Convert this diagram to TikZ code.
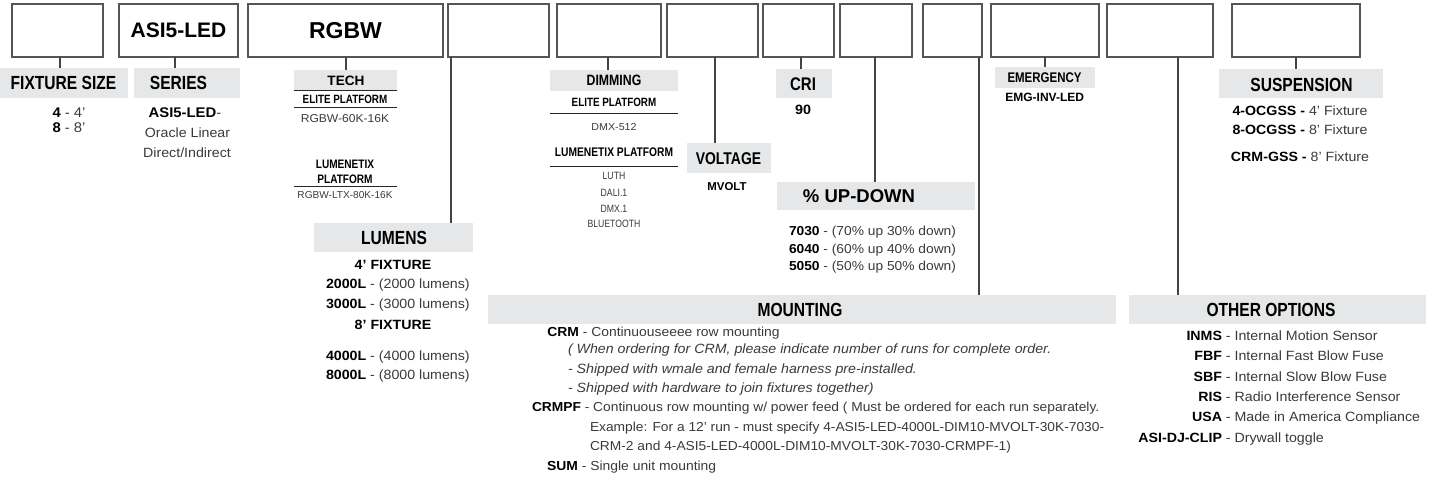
\documentclass[tikz,border=0pt]{standalone}
\usepackage{fontspec}
\setmainfont{Liberation Sans}
\newfontfamily\fc{Liberation Sans}[FakeStretch=0.82]
\newfontfamily\fn{Liberation Sans}[FakeStretch=1.0]
\newfontfamily\fw{Liberation Sans}[FakeStretch=1.06]
\newcommand\fsz[1]{\fontsize{#1}{#1}\selectfont}
\newcommand\bk[1]{{\bfseries\color{black}#1}}
\definecolor{gbg}{HTML}{E6E7E8}
\definecolor{boxc}{HTML}{555555}
\definecolor{stemc}{HTML}{444444}
\definecolor{txt}{HTML}{3A3A3A}
\begin{document}
\begin{tikzpicture}[x=1pt,y=-1pt,
  optbox/.style={draw=boxc,line width=1.2pt,inner sep=0,outer sep=0,minimum height=53,text=black,font=\fn\bfseries\fsz{21}},
  hd/.style={fill=gbg,inner sep=0,outer sep=0},
  hdtx/.style={inner sep=0,outer sep=0,anchor=center,text=black,font=\fc\bfseries\fsz{19}},
  stem/.style={draw=stemc,line width=1.2pt},
  sepline/.style={draw=black!85,line width=0.9pt},
  tx/.style={inner sep=0,outer sep=0,anchor=base,text=txt,font=\fw\fsz{13.4}},
  txw/.style={tx,anchor=base west},
  sbh/.style={tx,text=black,font=\fc\bfseries\fsz{12}},
]
\useasboundingbox (0,0) rectangle (1436,493);

% code boxes
\node[optbox,minimum width=91] (b1) at (57.5,30.5) {};
\node[optbox,minimum width=119] (b2) at (178.5,30.5) {ASI5-LED};
\node[optbox,minimum width=195,font=\fn\bfseries\fsz{23}] (b3) at (345.5,30.5) {RGBW};
\node[optbox,minimum width=101] (b4) at (498.5,30.5) {};
\node[optbox,minimum width=104] (b5) at (609,30.5) {};
\node[optbox,minimum width=91] (b6) at (712.5,30.5) {};
\node[optbox,minimum width=71] (b7) at (798.5,30.5) {};
\node[optbox,minimum width=72] (b8) at (876,30.5) {};
\node[optbox,minimum width=59] (b9) at (952.5,30.5) {};
\node[optbox,minimum width=108] (b10) at (1045,30.5) {};
\node[optbox,minimum width=106] (b11) at (1160,30.5) {};
\node[optbox,minimum width=128] (b12) at (1296,30.5) {};

% grey heading bars
\node[hd,minimum width=128,minimum height=30] (hFix) at (64,83) {};
\node[hd,minimum width=106,minimum height=30] (hSer) at (187,83) {};
\node[hd,minimum width=103,minimum height=20] (hTech) at (345.5,80) {};
\node[hd,minimum width=159,minimum height=29] (hLum) at (393.5,237.5) {};
\node[hd,minimum width=128,minimum height=21] (hDim) at (614,80.5) {};
\node[hd,minimum width=84,minimum height=30] (hVolt) at (729,158) {};
\node[hd,minimum width=56,minimum height=29] (hCri) at (804,83.5) {};
\node[hd,minimum width=198,minimum height=28] (hUp) at (876,196) {};
\node[hd,minimum width=628,minimum height=29] (hMount) at (802,309.5) {};
\node[hd,minimum width=100,minimum height=21] (hEmg) at (1045,77.5) {};
\node[hd,minimum width=297,minimum height=29] (hOther) at (1277.5,309.5) {};
\node[hd,minimum width=164,minimum height=29] (hSus) at (1301,83.5) {};

% heading texts
\node[hdtx] (tFix) at (63.5,83) {FIXTURE SIZE};
\node[hdtx] (tSer) at (178.5,83) {SERIES};
\node[hdtx,font=\fn\bfseries\fsz{13.6}] (tTech) at (346,80.5) {TECH};
\node[hdtx] (tLum) at (394,237.8) {LUMENS};
\node[hdtx,font=\fc\bfseries\fsz{15}] (tDim) at (614,80) {DIMMING};
\node[hdtx,font=\fc\bfseries\fsz{17}] (tVolt) at (728.5,158.3) {VOLTAGE};
\node[hdtx,font=\fc\bfseries\fsz{18.3}] (tCri) at (803,84.5) {CRI};
\node[hdtx,font=\fn\bfseries\fsz{18.5}] (tUp) at (859,196) {\% UP-DOWN};
\node[hdtx] (tMount) at (800,309.7) {MOUNTING};
\node[hdtx,font=\fc\bfseries\fsz{14}] (tEmg) at (1044.5,77.7) {EMERGENCY};
\node[hdtx] (tOther) at (1271,309.7) {OTHER OPTIONS};
\node[hdtx] (tSus) at (1301.5,84.5) {SUSPENSION};

% stems
\coordinate (x1) at (60,0);
\coordinate (x2) at (175,0);
\coordinate (x3) at (346,0);
\coordinate (x4) at (451,0);
\coordinate (x5) at (608,0);
\coordinate (x6) at (715,0);
\coordinate (x7) at (801,0);
\coordinate (x8) at (875,0);
\coordinate (x9) at (979,0);
\coordinate (x10) at (1045,0);
\coordinate (x11) at (1178,0);
\coordinate (x12) at (1296,0);
\draw[stem] (b1.south -| x1) -- (hFix.north -| x1);
\draw[stem] (b2.south -| x2) -- (hSer.north -| x2);
\draw[stem] (b3.south -| x3) -- (hTech.north -| x3);
\draw[stem] (b4.south -| x4) -- (hLum.north -| x4);
\draw[stem] (b5.south -| x5) -- (hDim.north -| x5);
\draw[stem] (b6.south -| x6) -- (hVolt.north -| x6);
\draw[stem] (b7.south -| x7) -- (hCri.north -| x7);
\draw[stem] (b8.south -| x8) -- (hUp.north -| x8);
\draw[stem] (b9.south -| x9) -- (hMount.north -| x9);
\draw[stem] (b10.south -| x10) -- (hEmg.north -| x10);
\draw[stem] (b11.south -| x11) -- (hOther.north -| x11);
\draw[stem] (b12.south -| x12) -- (hSus.north -| x12);

% fixture size
\node[tx,font=\fw\fsz{14}] (f4) at (69,117) {\bk{4} - 4’};
\node[tx,font=\fw\fsz{14}] (f8) at (69,132) {\bk{8} - 8’};

% series
\node[tx,font=\fw\fsz{14}] (s1) at (185,117) {\bk{ASI5-LED}-};
\node[tx] (s2) at (187.5,137) {Oracle Linear};
\node[tx] (s3) at (187,157) {Direct/Indirect};

% tech
\draw[sepline] (hTech.south west) -- (hTech.south east);
\node[sbh] (te1) at (345,103) {ELITE PLATFORM};
\coordinate (tl1) at (294,107.3);
\coordinate (tr1) at (397,107.3);
\draw[sepline] (tl1) -- (tr1);
\node[tx,font=\fw\fsz{11.4}] (te2) at (345,122.7) {RGBW-60K-16K};
\node[sbh,font=\fc\bfseries\fsz{12.3}] (te3) at (345,168) {LUMENETIX};
\node[sbh,font=\fc\bfseries\fsz{12.3}] (te4) at (345,183) {PLATFORM};
\coordinate (tl2) at (294,186);
\coordinate (tr2) at (397,186);
\draw[sepline] (tl2) -- (tr2);
\node[tx,font=\fn\fsz{10.1}] (te5) at (345,198) {RGBW-LTX-80K-16K};

% lumens
\node[tx,text=black,font=\fw\bfseries\fsz{13.4}] (l1) at (393,269) {4’ FIXTURE};
\node[txw] (l2) at (326,288) {\bk{2000L} - (2000 lumens)};
\node[txw] (l3) at (326,308) {\bk{3000L} - (3000 lumens)};
\node[tx,text=black,font=\fw\bfseries\fsz{13.4}] (l4) at (393,329) {8’ FIXTURE};
\node[txw] (l5) at (326,360) {\bk{4000L} - (4000 lumens)};
\node[txw] (l6) at (326,379) {\bk{8000L} - (8000 lumens)};

% dimming
\node[sbh] (d1) at (614,106) {ELITE PLATFORM};
\coordinate (dl1) at (550,113);
\coordinate (dr1) at (678,113);
\draw[sepline] (dl1) -- (dr1);
\node[tx,font=\fw\fsz{10.1}] (d2) at (614,130) {DMX-512};
\node[sbh,font=\fc\bfseries\fsz{12.5}] (d3) at (614,156) {LUMENETIX PLATFORM};
\coordinate (dl2) at (550,166);
\coordinate (dr2) at (678,166);
\draw[sepline] (dl2) -- (dr2);
\node[tx,font=\fc\fsz{10.6}] (d4) at (614,179.3) {LUTH};
\node[tx,font=\fc\fsz{10.6}] (d5) at (614,196.7) {DALI.1};
\node[tx,font=\fc\fsz{10.6}] (d6) at (614,212) {DMX.1};
\node[tx,font=\fc\fsz{10.6}] (d7) at (614,227) {BLUETOOTH};

% voltage
\node[tx,text=black,font=\fn\bfseries\fsz{11.4}] (v1) at (727,190.7) {MVOLT};

% cri
\node[tx,text=black,font=\fw\bfseries\fsz{13.5}] (c1) at (803,114.3) {90};

% up-down
\node[txw,font=\fw\fsz{13}] (u1) at (789,235) {\bk{7030} - (70\% up 30\% down)};
\node[txw,font=\fw\fsz{13}] (u2) at (789,253) {\bk{6040} - (60\% up 40\% down)};
\node[txw,font=\fw\fsz{13}] (u3) at (789,270) {\bk{5050} - (50\% up 50\% down)};

% mounting
\node[txw,font=\fw\fsz{13.1}] (m1) at (579,336) {\llap{\bk{CRM}} - Continuouseeee row mounting};
\node[txw,font=\fw\itshape\fsz{13.4}] (m2) at (568,353) {( When ordering for CRM, please indicate number of runs for complete order.};
\node[txw,font=\fw\itshape\fsz{13.4}] (m3) at (568,373) {- Shipped with wmale and female harness pre-installed.};
\node[txw,font=\fw\itshape\fsz{13.4}] (m4) at (568,392.6) {- Shipped with hardware to join fixtures together)};
\node[txw,font=\fw\fsz{13}] (m5) at (581,411.7) {\llap{\bk{CRMPF}} - Continuous row mounting w/ power feed ( Must be ordered for each run separately.};
\node[txw,font=\fw\fsz{13}] (m6) at (590,431.7) {Example: For a 12’ run - must specify 4-ASI5-LED-4000L-DIM10-MVOLT-30K-7030-};
\node[txw,font=\fw\fsz{13}] (m7) at (590,450.7) {CRM-2 and 4-ASI5-LED-4000L-DIM10-MVOLT-30K-7030-CRMPF-1)};
\node[txw,font=\fw\fsz{13.1}] (m8) at (578,470) {\llap{\bk{SUM}} - Single unit mounting};

% emergency
\node[tx,text=black,font=\fn\bfseries\fsz{12}] (e1) at (1044.7,101.7) {EMG-INV-LED};

% other options
\node[txw] (o1) at (1222,340) {\llap{\bk{INMS}} - Internal Motion Sensor};
\node[txw] (o2) at (1222,360.7) {\llap{\bk{FBF}} - Internal Fast Blow Fuse};
\node[txw] (o3) at (1222,381) {\llap{\bk{SBF}} - Internal Slow Blow Fuse};
\node[txw] (o4) at (1222,401.7) {\llap{\bk{RIS}} - Radio Interference Sensor};
\node[txw] (o5) at (1222,421.7) {\llap{\bk{USA}} - Made in America Compliance};
\node[txw] (o6) at (1222,442) {\llap{\bk{ASI-DJ-CLIP}} - Drywall toggle};

% suspension
\node[tx] (p1) at (1300,115) {\bk{4-OCGSS -} 4’ Fixture};
\node[tx] (p2) at (1300,134) {\bk{8-OCGSS -} 8’ Fixture};
\node[tx] (p3) at (1300,161.7) {\bk{CRM-GSS -} 8’ Fixture};
\end{tikzpicture}
\end{document}
